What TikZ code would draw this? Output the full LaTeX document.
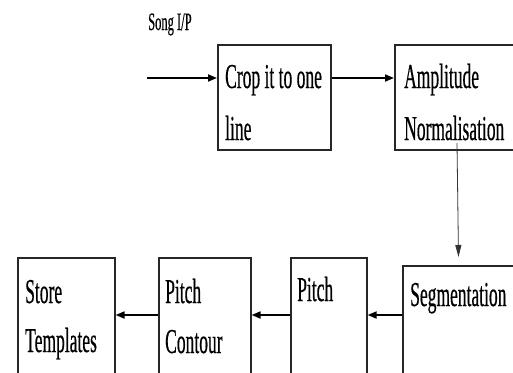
\documentclass[tikz,border=0pt]{standalone}
\usepackage{fontspec}
\usetikzlibrary{arrows.meta}
\newfontfamily\narrowserif{Liberation Serif}[FakeStretch=0.5,FakeBold=0.4]
\begin{document}
\begin{tikzpicture}[x=1pt,y=-1pt,
  blockbox/.style={draw=black!85,line width=1.6pt,rectangle,inner sep=0pt},
  label/.style={inner sep=0pt,anchor=base west,font=\narrowserif\fontsize{35}{42}\selectfont},
  flow/.style={line width=1.7pt,-{Triangle[length=9pt,width=7pt]}},
  drop/.style={line width=0.8pt,draw=black!80,-{Triangle[length=12pt,width=6pt]}}]
\useasboundingbox (0,0) rectangle (513,372);
\clip (0,0) rectangle (513,372);
% blocks (the right and lower ones run past the frame)
\node[blockbox,minimum width=113pt,minimum height=105pt,anchor=north west] (crop) at (217,44) {};
\node[blockbox,minimum width=150pt,minimum height=105pt,anchor=north west] (ampl) at (394,44) {};
\node[blockbox,minimum width=140pt,minimum height=140pt,anchor=north west] (seg) at (402,265) {};
\node[blockbox,minimum width=76pt,minimum height=150pt,anchor=north west] (pitch) at (290,257) {};
\node[blockbox,minimum width=92pt,minimum height=150pt,anchor=north west] (contour) at (158,257) {};
\node[blockbox,minimum width=97pt,minimum height=150pt,anchor=north west] (store) at (17,257) {};
% texts
\node[label,font=\narrowserif\fontsize{25}{30}\selectfont] (song) at (148,30) {Song I/P};
\node[label] (t1) at (225,88) {Crop it to one};
\node[label] (t2) at (225,140) {line};
\node[label] (t3) at (404,88) {Amplitude};
\node[label] (t4) at (404,140) {Normalisation};
\node[label] (t5) at (410,306) {Segmentation};
\node[label] (t6) at (297,301) {Pitch};
\node[label] (t7) at (165,303) {Pitch};
\node[label] (t8) at (165,353) {Contour};
\node[label] (t9) at (25,303) {Store};
\node[label] (t10) at (25,352) {Templates};
% connectors
\coordinate (in) at (147,78);
\coordinate (low) at (0,315);
\coordinate (vtop) at (457,143);
\coordinate (vend) at (458.5,257);
\draw[flow] (in) -- (crop.west |- in);
\draw[flow] (crop.east |- in) -- (ampl.west |- in);
\draw[drop] (vtop) -- (vend);
\draw[flow] (seg.west |- low) -- (pitch.east |- low);
\draw[flow] (pitch.west |- low) -- (contour.east |- low);
\draw[flow] (contour.west |- low) -- (store.east |- low);
\end{tikzpicture}
\end{document}
